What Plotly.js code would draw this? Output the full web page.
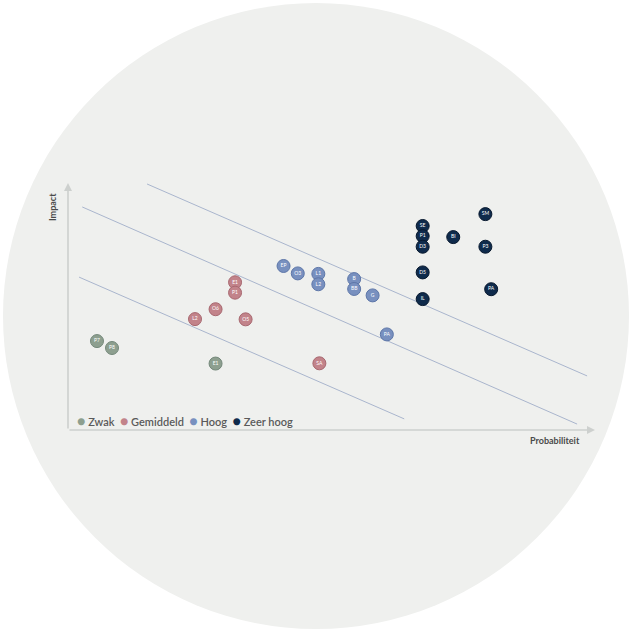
<!DOCTYPE html>
<html>
<head>
<meta charset="utf-8">
<script src="https://cdn.plot.ly/plotly-3.0.1.min.js"></script>
<style>html,body{margin:0;padding:0;background:#fff;}#chart{width:631px;height:637px;}</style>
</head>
<body>
<div id="chart"></div>
<script>
// ---- data ----
const categories = ["Zwak", "Gemiddeld", "Hoog", "Zeer hoog"];
const colors = ["#8d9f8f", "#c2838a", "#7890bf", "#0f2b4c"];
const borderColors = ["#74887a", "#a86870", "#5d76a8", "#07182e"];

const zwakX = [5.5, 8.35, 28.0];
const zwakY = [36.0, 33.2, 26.9];
const zwakLabels = ["P7", "P8", "E1"];

const gemX = [31.7, 31.7, 28.0, 24.1, 33.7, 47.7];
const gemY = [59.8, 55.6, 48.9, 44.9, 44.8, 27.0];
const gemLabels = ["E1", "P1", "O6", "L2", "O5", "SA"];

const hoogX = [40.9, 43.6, 47.5, 47.5, 54.3, 54.3, 57.8, 60.5];
const hoogY = [66.4, 63.4, 63.2, 59.0, 61.1, 57.1, 54.5, 38.7];
const hoogLabels = ["EP", "O3", "L1", "L2", "B", "BB", "G", "PA"];

const zeerX = [67.3, 67.3, 67.3, 67.3, 67.3, 73.1, 79.2, 79.2, 80.3];
const zeerY = [82.6, 78.5, 74.2, 63.8, 53.0, 78.1, 87.4, 74.2, 57.0];
const zeerLabels = ["SE", "P1", "D3", "D5", "IL", "BI", "SM", "P3", "PA"];

// zone boundary lines
const line1X = [15.0, 98.5], line1Y = [99.6, 21.9];
const line2X = [2.7, 96.6],  line2Y = [90.3, 2.4];
const line3X = [2.1, 63.8],  line3Y = [61.9, 4.5];

const xAxisTitle = "Probabiliteit";
const yAxisTitle = "Impact";

// ---- build ----
const series = [
  [zwakX, zwakY, zwakLabels],
  [gemX, gemY, gemLabels],
  [hoogX, hoogY, hoogLabels],
  [zeerX, zeerY, zeerLabels]
];

const traces = [];
[[line1X, line1Y], [line2X, line2Y], [line3X, line3Y]].forEach(function (l) {
  traces.push({
    x: l[0], y: l[1], mode: "lines", type: "scatter",
    line: {color: "#a9b5cd", width: 1}, hoverinfo: "skip", showlegend: false
  });
});
series.forEach(function (s, i) {
  traces.push({
    x: s[0], y: s[1], text: s[2], name: categories[i],
    mode: "markers+text", type: "scatter",
    textposition: "middle center",
    textfont: {size: 5, color: "#ffffff", family: "Lato, sans-serif"},
    marker: {size: 13, color: colors[i], line: {color: borderColors[i], width: 1}},
    cliponaxis: false, showlegend: false
  });
});

const legendText = categories.map(function (c, i) {
  return "<span style='color:" + colors[i] + ";font-size:14px'>●</span> " + c;
}).join("  ");

const L = 68, R = 595, T = 183, B = 430, W = 631, H = 637;
const pw = R - L, ph = B - T;
function px(x) { return (x - L) / pw; }
function py(y) { return (B - y) / ph; }

const layout = {
  width: W, height: H,
  margin: {l: L, r: W - R, t: T, b: H - B, pad: 0},
  paper_bgcolor: "#ffffff",
  plot_bgcolor: "rgba(0,0,0,0)",
  showlegend: false,
  xaxis: {range: [0, 100], showgrid: false, zeroline: false, showticklabels: false, showline: false, ticks: "", fixedrange: true},
  yaxis: {range: [0, 100], showgrid: false, zeroline: false, showticklabels: false, showline: false, ticks: "", fixedrange: true},
  shapes: [{
    type: "circle", xref: "paper", yref: "paper", layer: "below",
    x0: px(3), x1: px(629), y0: py(629), y1: py(3),
    fillcolor: "#eff0ee", line: {width: 0}
  }],
  annotations: [
    {xref: "x", yref: "y", axref: "x", ayref: "y", x: 100, y: 0, ax: 0, ay: 0, text: "",
     showarrow: true, arrowhead: 2, arrowsize: 1, arrowwidth: 1.6, arrowcolor: "#cdd0ce", standoff: 0},
    {xref: "x", yref: "y", axref: "x", ayref: "y", x: 0, y: 100, ax: 0, ay: 0, text: "",
     showarrow: true, arrowhead: 2, arrowsize: 1, arrowwidth: 1.6, arrowcolor: "#cdd0ce", standoff: 0},
    {xref: "paper", yref: "paper", x: px(52), y: py(207), xanchor: "center", yanchor: "middle",
     text: yAxisTitle, textangle: -90,
     showarrow: false, font: {size: 9, color: "#4a4a4a", family: "Lato, sans-serif", weight: 700}},
    {xref: "paper", yref: "paper", x: px(555), y: py(440), xanchor: "center", yanchor: "middle",
     text: xAxisTitle,
     showarrow: false, font: {size: 9, color: "#4a4a4a", family: "Lato, sans-serif", weight: 700}},
    {xref: "paper", yref: "paper", x: px(75), y: py(420), xanchor: "left", yanchor: "middle",
     text: legendText, showarrow: false, font: {size: 11, color: "#5a5a5a", family: "Lato, sans-serif", weight: 600}}
  ]
};

Plotly.newPlot("chart", traces, layout, {displayModeBar: false, staticPlot: true});
</script>
</body>
</html>
